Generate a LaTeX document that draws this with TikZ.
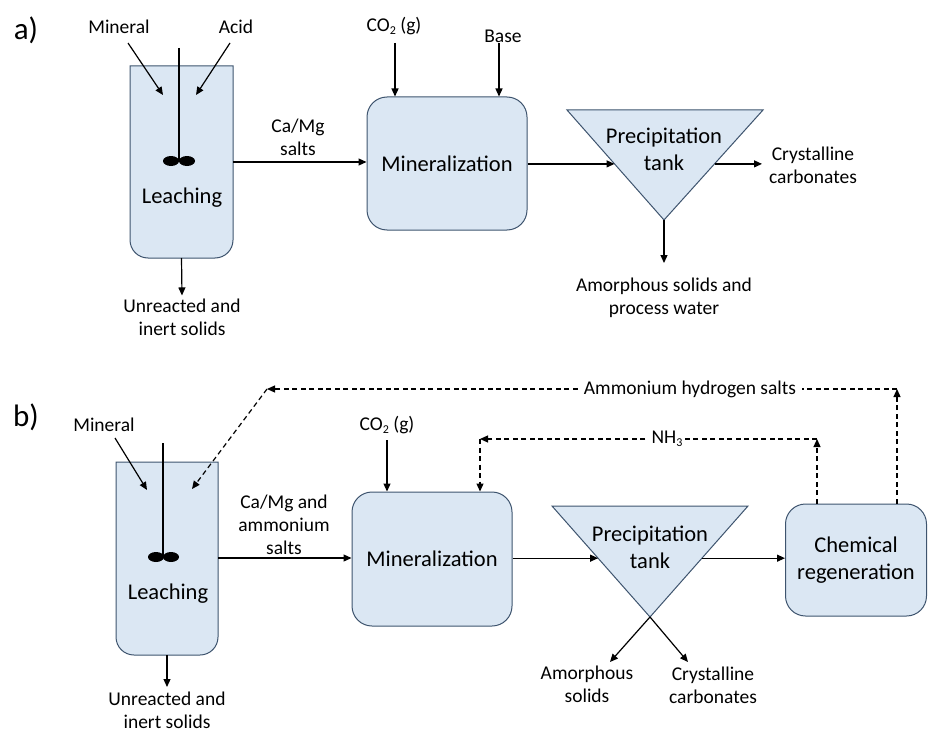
\documentclass[tikz,border=0pt]{standalone}
\usepackage{fontspec}
\setmainfont{Carlito}
\usetikzlibrary{arrows.meta,calc}
\definecolor{boxfill}{RGB}{219,231,243}
\definecolor{boxline}{RGB}{62,84,110}
\newcommand{\sbs}[1]{\raisebox{-0.35ex}{\fontsize{12}{12}\selectfont #1}}
\tikzset{
  big/.style={font=\fontsize{22.5}{27}\selectfont, align=center, inner sep=0pt},
  small/.style={font=\fontsize{19.5}{23}\selectfont, align=center, inner sep=0pt},
  panel/.style={font=\fontsize{31}{31}\selectfont, inner sep=0pt},
  flow/.style={-{Triangle[length=8pt,width=7pt]}, line width=1.2pt, black},
  recyc/.style={flow, dash pattern=on 5pt off 3.5pt},
  unitbox/.style={draw=boxline, fill=boxfill, line width=1pt, rounded corners=20pt, inner sep=0pt},
  tank/.style={draw=boxline, fill=boxfill, line width=1pt},
  anchorbox/.style={inner sep=0pt, outer sep=0pt}
}
\begin{document}
\begin{tikzpicture}[x=1pt,y=-1pt]
\useasboundingbox (0,0) rectangle (928,733);

% ================= panel a =================
\node[panel] (pa) at (26,30) {a)};

% leaching vessel
\node[anchorbox, minimum width=103pt, minimum height=192pt] (leachA) at (181.5,162) {};
\path[tank] (130,66) -- (130,240) arc[start angle=180,end angle=90,radius=18]
  -- (215,258) arc[start angle=90,end angle=0,radius=18] -- (233,66) -- cycle;
\draw[line width=1.2pt] (179,48) -- (179,161);
\fill (171,161) ellipse [x radius=8, y radius=5];
\fill (187,161) ellipse [x radius=8, y radius=5];
\node[big] (leachAt) at (182,198) {Leaching};

\node[small] (minlA) at (119,27) {Mineral};
\node[small] (acidA) at (236,27) {Acid};
\coordinate (minAs) at (128,43);
\coordinate (minAe) at (163,95);
\coordinate (acidAs) at (230,43);
\coordinate (acidAe) at (196,95);
\draw[flow] (minAs) -- (minAe);
\draw[flow] (acidAs) -- (acidAe);

\node[small] (unrA) at (182,317) {Unreacted and\\inert solids};
\draw[flow] (leachA.south) -- ($(unrA.north)+(0,-3)$);

% mineralization
\node[unitbox, minimum width=160pt, minimum height=133pt] (minA) at (447,163.5) {};
\node[big] at (minA.center) {Mineralization};
\node[small] (co2A) at (394,26) {CO\sbs{2} (g)};
\node[small] (baseA) at (503,36) {Base};
\draw[flow] (395,43) -- (395,0 |- minA.north);
\draw[flow] (499,43) -- (499,0 |- minA.north);

\node[small] (camgA) at (298,137) {Ca/Mg\\salts};
\draw[flow] (leachA.east |- 0,162) -- (minA.west |- 0,162);

% precipitation tank
\coordinate (tA1) at (567,110);
\coordinate (tA2) at (763,110);
\coordinate (tA3) at (664,220);
\path[tank] (tA1) -- (tA2) -- (tA3) -- cycle;
\node[big] (precA) at (664,149) {Precipitation\\tank};
\coordinate (tAin) at ($(tA1)!0.49!(tA3)$);
\coordinate (tAout) at ($(tA2)!0.49!(tA3)$);
\draw[flow] (minA.east |- tAin) -- (tAin);

\node[small] (crysA) at (813,165) {Crystalline\\carbonates};
\coordinate (crysAe) at (762,0 |- tAout);
\draw[flow] (tAout) -- (crysAe);

\node[small] (amorA) at (664,298) {Amorphous solids and\\process water};
\coordinate (amorAe) at (664,263);
\draw[flow] (tA3) -- (amorAe);

% ================= panel b =================
\node[panel] (pb) at (26,417) {b)};

\node[anchorbox, minimum width=102pt, minimum height=193pt] (leachB) at (167,558.5) {};
\path[tank] (116,462) -- (116,637) arc[start angle=180,end angle=90,radius=18]
  -- (200,655) arc[start angle=90,end angle=0,radius=18] -- (218,462) -- cycle;
\draw[line width=1.2pt] (163,443) -- (163,557);
\fill (156,557) ellipse [x radius=8, y radius=5];
\fill (171,557) ellipse [x radius=8, y radius=5];
\node[big] (leachBt) at (168,594) {Leaching};

\node[small] (minlB) at (104,425) {Mineral};
\coordinate (minBs) at (115,438);
\coordinate (minBe) at (147,490);
\draw[flow] (minBs) -- (minBe);

\node[small] (unrB) at (167,710) {Unreacted and\\inert solids};
\draw[flow] (leachB.south) -- (167,687);

% mineralization b
\node[unitbox, minimum width=160pt, minimum height=134pt] (minB) at (432,559) {};
\node[big] at (minB.center) {Mineralization};
\node[small] (co2B) at (387,425) {CO\sbs{2} (g)};
\draw[flow] (387,440) -- (387,0 |- minB.north);

\node[small] (camgB) at (284,525) {Ca/Mg and\\ammonium\\salts};
\draw[flow] (leachB.east |- 0,558) -- (minB.west |- 0,558);

% precipitation tank b
\coordinate (tB1) at (552,506);
\coordinate (tB2) at (748,506);
\coordinate (tB3) at (650,617);
\path[tank] (tB1) -- (tB2) -- (tB3) -- cycle;
\node[big] (precB) at (650,547) {Precipitation\\tank};
\coordinate (tBin) at ($(tB1)!0.47!(tB3)$);
\coordinate (tBout) at ($(tB2)!0.47!(tB3)$);
\draw[flow] (minB.east |- tBin) -- (tBin);

% chemical regeneration
\node[unitbox, minimum width=141pt, minimum height=112pt] (regen) at (856,560) {};
\node[big] at (regen.center) {Chemical\\regeneration};
\draw[flow] (tBout) -- (regen.west |- tBout);

\node[small] (amorB) at (587,684) {Amorphous\\solids};
\node[small] (crysB) at (713,685) {Crystalline\\carbonates};
\coordinate (amorBe) at (610,662);
\coordinate (crysBe) at (688,662);
\draw[flow] (tB3) -- (amorBe);
\draw[flow] (tB3) -- (crysBe);

% recycle: ammonium hydrogen salts
\node[small] (ahs) at (690,389) {Ammonium hydrogen salts};
\coordinate (cR1) at (897,389);
\coordinate (cL1) at (267,389);
\coordinate (leachBin) at (192,489);
\draw[recyc] (897,0 |- regen.north) -- (cR1);
\draw[dash pattern=on 5pt off 3.5pt, line width=1.2pt] (cR1) -- ($(ahs.east)+(6,0)$);
\draw[recyc] ($(ahs.west)+(-6,0)$) -- (cL1);
\draw[recyc] (cL1) -- (leachBin);

% recycle: NH3
\node[small] (nh3) at (667,439) {NH\sbs{3}};
\coordinate (cR2) at (817,439);
\coordinate (cL2) at (480,439);
\draw[recyc] (817,0 |- regen.north) -- (cR2);
\draw[dash pattern=on 5pt off 3.5pt, line width=1.2pt] (cR2) -- ($(nh3.east)+(2,0)$);
\draw[recyc] ($(nh3.west)+(-6,0)$) -- (cL2);
\draw[recyc] (cL2) -- (480,0 |- minB.north);
\end{tikzpicture}
\end{document}
